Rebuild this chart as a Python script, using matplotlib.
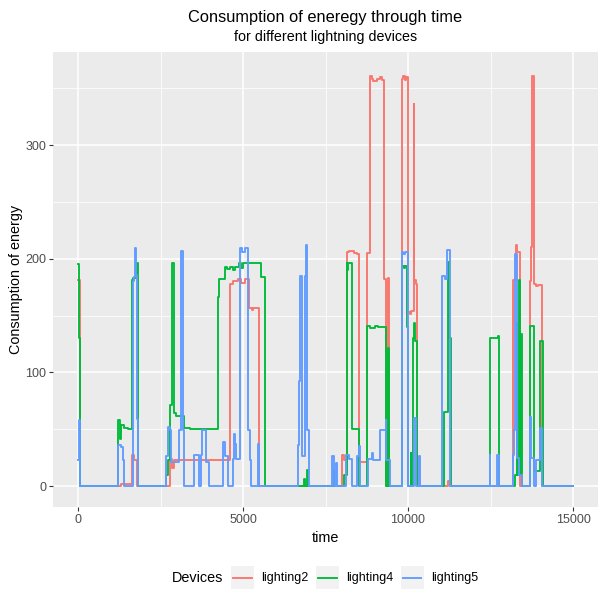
import matplotlib
matplotlib.use("Agg")
import matplotlib.pyplot as plt
from matplotlib.patches import Rectangle
from matplotlib.lines import Line2D

plt.rcParams['font.family'] = ['Liberation Sans', 'DejaVu Sans']

# ---------------- data ----------------
devices = ["lighting2", "lighting4", "lighting5"]
colors = ["#F8766D", "#00BA38", "#619CFF"]

red_t = [0, 70, 1300, 1620, 1700, 1800, 2800, 2860, 2900, 4615, 4700, 4850, 4950, 5050,
         5195, 5260, 5300, 5480, 7995, 8045, 8135, 8200, 8350, 8450, 8520, 8760, 8850,
         8900, 8950, 9050, 9150, 9200, 9270, 9330, 9390, 9435, 9810, 9850, 9900, 9950,
         10000, 10060, 10100, 10170, 10190, 10230, 10260, 11200, 11270, 13170, 13260,
         13290, 13400, 13700, 13720, 13750, 13830, 13870, 13950, 14060, 15000]
red_v = [181, 0, 2, 27, 23, 0, 24, 16, 23, 178, 180, 182, 179, 182,
         157, 155, 157, 0, 27, 23, 206, 207, 205, 204, 21, 205, 361,
         358, 356, 358, 360, 357, 182, 0, 183, 0, 358, 361, 357, 360,
         153, 151, 154, 336, 181, 178, 0, 4, 0, 181, 212,
         206, 0, 180, 210, 361, 178, 176, 177, 0, 0]

green_t = [0, 40, 70, 1220, 1260, 1290, 1400, 1500, 1620, 1680, 1795, 1825, 2670, 2740,
           2790, 2840, 2910, 2980, 3210, 3400, 4230, 4260, 4460, 4500, 4600, 4700, 4750,
           4870, 4950, 5000, 5550, 5680, 6850, 6870, 6945, 6960, 7755, 7770, 8070, 8140,
           8160, 8180, 8300, 8500, 8520, 8760, 8850, 9000, 9100, 9320, 9345, 9385, 9430,
           9830, 9870, 9900, 9980, 10000, 10080, 10100, 10140, 10180, 10220, 10260, 11095,
           11210, 11235, 11250, 11310, 12470, 12730, 12770, 13240, 13290, 13310, 13360,
           13380, 13420, 13440, 13700, 13830, 14000, 14080, 14100, 15000]
green_v = [195, 130, 0, 58, 41, 54, 51, 50, 181, 183, 196, 0, 10, 23,
           71, 196, 64, 62, 51, 50, 166, 182, 193, 191, 193, 190, 193,
           196, 192, 196, 184, 0, 6, 0, 14, 0, 14, 0, 10, 196,
           190, 196, 50, 43, 0, 141, 139, 141, 140, 128, 0, 121, 0,
           194, 192, 194, 140, 0, 29, 0, 130, 143, 128, 0, 65,
           197, 178, 130, 0, 130, 132, 0, 10, 143, 10, 181,
           10, 134, 0, 141, 13, 128, 117, 0, 0]

blue_t = [0, 15, 30, 65, 1220, 1300, 1370, 1400, 1650, 1700, 1730, 1760, 1790, 1820,
          2665, 2740, 2800, 2830, 3045, 3120, 3190, 3200, 3508, 3663, 3714, 3766, 3869, 3971,
          4383, 4455, 4537, 4690, 4740, 4770, 4800, 4900, 4980, 5060, 5140, 5200, 5240, 5440,
          5470, 6650, 6700, 6720, 6780, 6870, 6920, 6945, 6995,
          7685, 7755, 7805, 7840,
          8130, 8225, 8295, 8450, 8520, 8530, 8780, 8910, 8940, 9160, 9320, 9340, 9450,
          9810, 9850, 9900, 10000, 10190, 10250, 10330, 10350,
          11020, 11120, 11190, 11270, 12470, 12490, 12700, 12770, 13170, 13200, 13230, 13300,
          13350, 13440, 13700, 13720, 13830, 13870, 14000, 14060, 15000]
blue_v = [23, 36, 58, 0, 36, 34, 23, 0, 180, 184, 209, 186, 59, 0,
          26, 52, 49, 21, 49, 207, 49, 0, 27, 0, 27, 49, 21, 0,
          39, 26, 0, 24, 46, 37, 24, 209, 206, 209, 49, 23, 0, 37,
          0, 36, 92, 185, 26, 185, 212, 49, 0,
          26, 0, 20, 0,
          27, 24, 0, 26, 35, 0, 24, 29, 23, 49, 58, 23, 0,
          206, 204, 206, 0, 60, 0, 26, 0,
          185, 182, 208, 0, 27, 0, 27, 0, 27, 49, 204, 25,
          10, 0, 61, 25, 0, 23, 51, 0, 0]

x_ticks = [0, 5000, 10000, 15000]
x_minor = [2500, 7500, 12500]
y_ticks = [0, 100, 200, 300]
y_minor = [50, 150, 250, 350]

title = "Consumption of eneregy through time"
subtitle = "for different lightning devices"
xlabel = "time"
ylabel = "Consumption of energy"
legend_title = "Devices"

# ---------------- figure ----------------
W = H = 604.0
fig = plt.figure(figsize=(6.04, 6.04), dpi=100)
fig.patch.set_facecolor("white")

pl, pr, pt, pb = 53.3, 597.8, 51.7, 506.7
ax = fig.add_axes([pl / W, 1 - pb / H, (pr - pl) / W, (pb - pt) / H])
ax.set_facecolor("#EBEBEB")

for t, v, c in zip([red_t, green_t, blue_t], [red_v, green_v, blue_v], colors):
    ax.plot(t, v, drawstyle="steps-post", color=c, lw=1.35, zorder=3)

ax.set_xlim(-750, 15750)
ax.set_ylim(-18.2, 382.1)
ax.set_xticks(x_ticks)
ax.set_xticklabels([str(x) for x in x_ticks])
ax.set_yticks(y_ticks)
ax.set_yticklabels([str(y) for y in y_ticks])
ax.set_xticks(x_minor, minor=True)
ax.set_yticks(y_minor, minor=True)
ax.grid(which="major", color="white", lw=1.1, zorder=1)
ax.grid(which="minor", color="white", lw=0.55, zorder=1)
ax.set_axisbelow(True)
for s in ax.spines.values():
    s.set_visible(False)
ax.tick_params(which="major", length=2.7, width=0.8, color="#333333",
               labelcolor="#4D4D4D", labelsize=9, pad=2.2)
ax.tick_params(which="minor", length=0)

cx = (pl + pr) / 2 / W
fig.text(cx, 1 - 21.7 / H, title, ha="center", va="baseline", fontsize=11.8, color="black")
fig.text(cx, 1 - 41.5 / H, subtitle, ha="center", va="baseline", fontsize=10.3, color="black")
fig.text(cx, 1 - 538 / H, xlabel, ha="center", va="center", fontsize=10.4, color="black")
fig.text(16 / W, 1 - (pt + pb) / 2 / H, ylabel, ha="center", va="center",
         rotation=90, fontsize=10.4, color="black")

# legend (bottom)
ky = 1 - 589 / H
kh = 23 / H
kw = 23 / W
fig.text(171.5 / W, ky + kh / 2, legend_title, ha="left", va="center", fontsize=10.4)
key_lefts = [231, 316, 400.7]
for xl, lab, c in zip(key_lefts, devices, colors):
    x0 = xl / W
    fig.add_artist(Rectangle((x0, ky), kw, kh, transform=fig.transFigure,
                             facecolor="#F2F2F2", edgecolor="none"))
    fig.add_artist(Line2D([x0 + 2.3 / W, x0 + kw - 2.3 / W], [ky + kh / 2] * 2,
                          transform=fig.transFigure, color=c, lw=1.35))
    fig.text(x0 + kw + 7 / W, ky + kh / 2, lab, ha="left", va="center", fontsize=9)

fig.savefig("out.png", dpi=100)
